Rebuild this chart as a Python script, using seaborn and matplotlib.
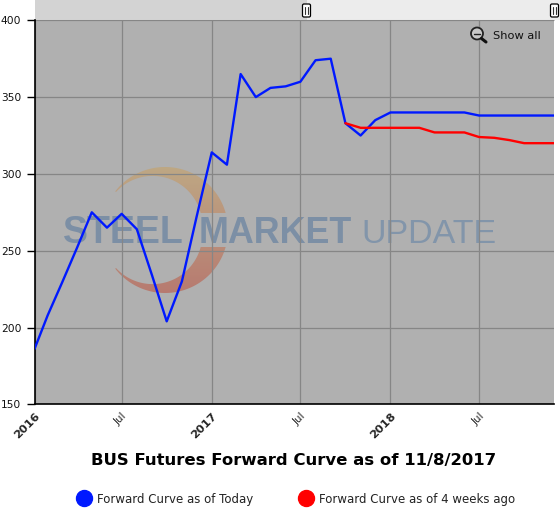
import numpy as np
import pandas as pd
import seaborn as sns
import matplotlib.pyplot as plt
import matplotlib.dates as mdates
from matplotlib.lines import Line2D
from matplotlib.patches import Rectangle, FancyBboxPatch, PathPatch, Circle
from matplotlib.path import Path

# Datos
fechas_hoy = ["2016-01-05", "2016-02-01", "2016-03-01", "2016-04-01", "2016-05-01", "2016-06-01",
              "2016-07-01", "2016-08-01", "2016-09-01", "2016-10-01", "2016-11-01", "2016-12-01",
              "2017-01-01", "2017-02-01", "2017-03-01", "2017-04-01", "2017-05-01", "2017-06-01",
              "2017-07-01", "2017-08-01", "2017-09-01", "2017-10-01", "2017-11-01", "2017-12-01",
              "2018-01-01", "2018-02-01", "2018-03-01", "2018-04-01", "2018-05-01", "2018-06-01",
              "2018-07-01", "2018-08-01", "2018-09-01", "2018-10-01", "2018-11-01", "2018-12-01"]
valores_hoy = [186, 208, 229, 252, 275, 265, 274, 264, 234, 204, 230, 272,
               314, 306, 365, 350, 356, 357, 360, 374, 375, 333, 325, 335,
               340, 340, 340, 340, 340, 340, 338, 338, 338, 338, 338, 338]
fechas_4sem = ["2017-10-01", "2017-11-01", "2017-12-01", "2018-01-01", "2018-02-01", "2018-03-01",
               "2018-04-01", "2018-05-01", "2018-06-01", "2018-07-01", "2018-08-01", "2018-09-01",
               "2018-10-01", "2018-11-01", "2018-12-01"]
valores_4sem = [333, 330, 330, 330, 330, 330, 327, 327, 327, 324, 323.5, 322, 320, 320, 320]

ticks_fechas = ["2016-01-05", "2016-07-01", "2017-01-01", "2017-07-01", "2018-01-01", "2018-07-01"]
ticks_textos = ["2016", "Jul", "2017", "Jul", "2018", "Jul"]
ticks_y = [150, 200, 250, 300, 350, 400]

nombre_hoy = "Forward Curve as of Today"
nombre_4sem = "Forward Curve as of 4 weeks ago"

datos = pd.concat([
    pd.DataFrame({"fecha": pd.to_datetime(fechas_hoy), "valor": valores_hoy, "serie": nombre_hoy}),
    pd.DataFrame({"fecha": pd.to_datetime(fechas_4sem), "valor": valores_4sem, "serie": nombre_4sem}),
])

sns.set_style("white")
plt.rcParams["font.family"] = ["DejaVu Sans"]

W, H = 560, 508
fig = plt.figure(figsize=(W / 100, H / 100), dpi=100)

# Fondo en coordenadas de pixel: area gris, navegador y logo
fondo = fig.add_axes([0, 0, 1, 1], zorder=0)
fondo.set_xlim(0, W)
fondo.set_ylim(H, 0)
fondo.axis("off")
fondo.add_patch(Rectangle((34.5, 20.3), 519.5, 384, fc="#b0b0b0", ec="none"))
fondo.add_patch(Rectangle((34.5, 0), 272, 20.3, fc="#d3d3d3", ec="none"))
fondo.add_patch(Rectangle((306.5, 0), 253.5, 20.3, fc="#ececec", ec="none"))
fondo.plot([34.5, 554], [20.3, 20.3], color="#c4c4c4", lw=0.8)

# media luna del logo, con degradado de naranja a rojo
ext1 = np.linspace(-0.79 * np.pi, np.arcsin(-17 / 63), 60)
int1 = np.linspace(np.arcsin(-12.6 / 49.7), -2.398, 60)
pts1 = np.vstack([np.c_[165 + 63 * np.cos(ext1), 230 + 63 * np.sin(ext1)],
                  np.c_[152.6 + 49.7 * np.cos(int1), 225.6 + 49.7 * np.sin(int1)]])
pts2 = pts1.copy()
pts2[:, 1] = 460 - pts2[:, 1]
vert = np.vstack([pts1, pts1[0], pts2, pts2[0]])
cods = []
for p in (pts1, pts2):
    cods += [Path.MOVETO] + [Path.LINETO] * (len(p) - 1) + [Path.CLOSEPOLY]
clip = PathPatch(Path(vert, cods), fc="none", ec="none", transform=fondo.transData)
fondo.add_patch(clip)
grad = np.linspace(0, 1, 64)[:, None, None]
rgb = (1 - grad) * np.array([190, 168, 132]) / 255 + grad * np.array([183, 122, 112]) / 255
img = fondo.imshow(rgb, extent=(90, 240, 295, 165), aspect="auto", zorder=1)
img.set_clip_path(clip)
fondo.set_xlim(0, W)
fondo.set_ylim(H, 0)

fondo.text(63, 243, "STEEL", fontfamily="Liberation Sans", fontweight="bold", fontsize=27,
           color="#7c8fa5", va="baseline", ha="left", zorder=2)
fondo.text(199, 243, "MARKET", fontfamily="Liberation Sans", fontweight="bold", fontsize=25.8,
           color="#7c8fa5", va="baseline", ha="left", zorder=2)
fondo.text(361, 243, "UPDATE", fontfamily="Liberation Sans", fontsize=24.5,
           color="#8295aa", va="baseline", ha="left", zorder=2)

# Grafico principal
ax = fig.add_axes([34.5 / W, 1 - 404.3 / H, 519.5 / W, 384 / H], zorder=1)
ax.patch.set_alpha(0)
sns.lineplot(data=datos, x="fecha", y="valor", hue="serie", ax=ax, sort=False, legend=False,
             palette={nombre_hoy: "#0019ff", nombre_4sem: "#ff0000"}, linewidth=1.7, zorder=5)
ax.set_xlim(pd.Timestamp("2016-01-05"), pd.Timestamp("2018-12-01"))
ax.set_ylim(150, 400)
ax.set_xlabel("")
ax.set_ylabel("")
ax.set_yticks(ticks_y)
ax.tick_params(axis="y", length=5.8, width=1, color="black", labelsize=7.7, pad=3.6, labelcolor="#111111", left=True)
ax.set_xticks(mdates.date2num(pd.to_datetime(ticks_fechas)))
ax.set_xticklabels(ticks_textos)
ax.tick_params(axis="x", length=0, pad=5)
for et, txt in zip(ax.get_xticklabels(), ticks_textos):
    et.set_rotation(45)
    et.set_rotation_mode("anchor")
    et.set_ha("right")
    if txt == "Jul":
        et.set_fontsize(7.5)
    else:
        et.set_fontsize(8.2)
        et.set_fontweight("bold")
ax.grid(True, color="#868686", lw=0.9)
for lado in ["top", "right"]:
    ax.spines[lado].set_visible(False)
for lado in ["left", "bottom"]:
    ax.spines[lado].set_color("black")
    ax.spines[lado].set_linewidth(1.2)

# Asas del navegador, lupa y "Show all"
sup = fig.add_axes([0, 0, 1, 1], zorder=2)
sup.set_xlim(0, W)
sup.set_ylim(H, 0)
sup.axis("off")
for xc in (306.5, 554.5):
    sup.add_patch(FancyBboxPatch((xc - 4, 4), 8, 13, boxstyle="round,pad=0,rounding_size=1.5",
                                 fc="white", ec="black", lw=0.9))
    sup.plot([xc - 1.2, xc - 1.2], [7, 14], color="#333333", lw=0.8)
    sup.plot([xc + 1.2, xc + 1.2], [7, 14], color="#333333", lw=0.8)
sup.add_patch(Circle((477, 33.5), 6, fc="#c8c8c8", ec="#222222", lw=1.3))
sup.plot([474, 480], [33.5, 33.5], color="#222222", lw=1)
sup.plot([481.5, 486], [38.5, 42], color="#111111", lw=2.2)
sup.text(493, 36, "Show all", fontsize=8.2, color="#111111", va="center", ha="left")

fig.text(294 / W, 1 - 460 / H, "BUS Futures Forward Curve as of 11/8/2017", fontsize=11.85,
         fontweight="bold", color="black", ha="center", va="center")

# Leyenda
manejadores = [Line2D([], [], ls="none", marker="o", ms=11.5, color="#0019ff"),
               Line2D([], [], ls="none", marker="o", ms=11.5, color="#ff0000")]
fig.legend(manejadores, [nombre_hoy, nombre_4sem], ncol=2, frameon=False, fontsize=8.45,
           loc="center", bbox_to_anchor=(296.5 / W, 1 - 499 / H), columnspacing=4.05,
           handlelength=1.0, handletextpad=0.6, labelcolor="#222222")

plt.savefig("out.png", dpi=100)
plt.close()
